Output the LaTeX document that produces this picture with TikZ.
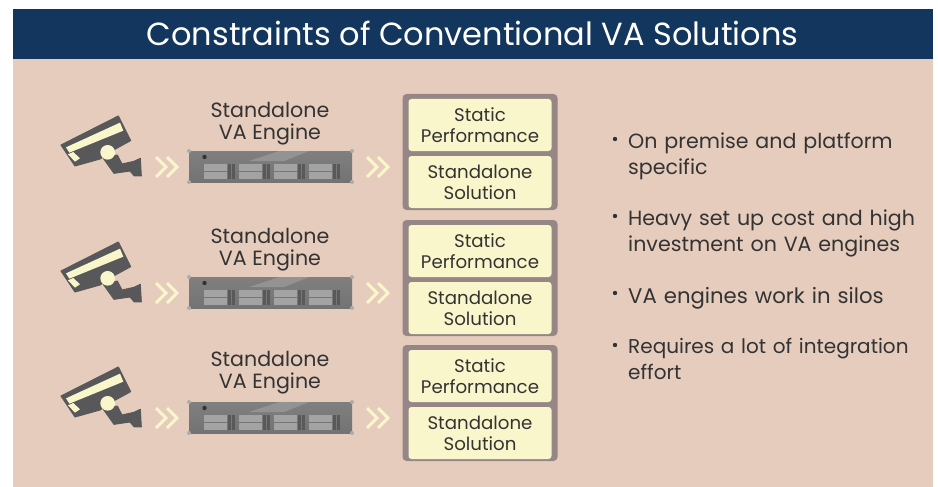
\documentclass[tikz,border=0pt]{standalone}
\usepackage{fontspec}
\setmainfont{Poppins}
\definecolor{navy}{HTML}{12365E}
\definecolor{peach}{HTML}{E6CCBD}
\definecolor{cream}{HTML}{FAF6CB}
\definecolor{taupe}{HTML}{968685}
\definecolor{camgray}{HTML}{58585A}
\definecolor{ink}{HTML}{333333}
\tikzset{
  x=1pt,y=-1pt,
  titletext/.style={text=white,font=\fontsize{32}{36}\selectfont,anchor=center,inner sep=0pt},
  enginelabel/.style={text=ink,font=\fontsize{20.6}{22}\selectfont,align=center,inner sep=0pt,anchor=center},
  boxlabel/.style={fill=cream,rounded corners=3pt,text=ink,font=\fontsize{18.2}{21}\selectfont,align=center,inner sep=0pt,minimum width=143pt,minimum height=52pt,anchor=center},
  frame/.style={fill=taupe,rounded corners=4pt,inner sep=0pt,minimum width=155pt,minimum height=116pt,anchor=center},
  bullettext/.style={text=ink,font=\fontsize{20.6}{26}\selectfont,align=left,inner sep=0pt,anchor=north west},
  chev/.style={draw=cream,line width=3pt,line cap=butt,line join=miter},
  camera/.pic={
    \begin{scope}[shift={(40,90)},x=0.3333pt,y=-0.3333pt]
      \filldraw[camgray,line width=1pt,line join=round] (63,165) -- (235,78) -- (272,152) -- (228,176) -- (180,207) -- (105,228) -- cycle;
      \fill[cream] (78,172) -- (240,98) -- (250,122) -- (88,188) -- cycle;
      \fill[cream] (84,193) -- (100,186) -- (120,205) -- (105,215) -- cycle;
      \filldraw[camgray,line width=1pt,line join=round] (190,205) -- (232,195) -- (246,222) -- (282,214) -- (301,205) -- (304,258) -- (283,258) -- (270,243) -- (222,250) -- cycle;
      \fill[cream] (203,187) circle[radius=22];
    \end{scope}
  },
  chevrons/.pic={
    \draw[chev] (-10,-10) -- (0,0) -- (-10,10);
    \draw[chev] (1,-10) -- (11,0) -- (1,10);
  },
  server/.pic={
    \begin{scope}[shift={(189,151)}]
      \shade[top color=gray!100,bottom color=gray!90!black] (0,0) rectangle (163,31);
      \fill[gray!85] (90,0) -- (120,0) -- (95,10) -- (60,10) -- cycle;
      \fill[black!80] (15.5,6) circle[radius=2.2];
      \foreach \cx/\cy in {0/0,163/0,0/31,163/31}{\fill[gray!65] (\cx,\cy) circle[radius=2];}
      \foreach \bx in {15,50,85,120}{
        \fill[gray!72] (\bx,13) rectangle ++(23,7);
        \fill[gray!72] (\bx,21) rectangle ++(23,6.5);
        \fill[black!65] (\bx+24,12.5) rectangle ++(3,15);
        \fill[black!65] (\bx+28,12.5) rectangle ++(3,15);
      }
    \end{scope}
  }
}
\begin{document}
\begin{tikzpicture}
\useasboundingbox (0,0) rectangle (938,487);
\fill[white] (0,0) rectangle (938,487);
\fill[peach] (13,59) rectangle (933,487);
\fill[navy] (13,9) rectangle (933,59);
\node[titletext] (title) at (472.5,33.5) {Constraints of Conventional VA Solutions};

\foreach \n/\dy/\dl in {1/0/0,2/126/126,3/251/249}{
  \pic at (0,\dy) {camera};
  \pic at (166,167+\dy) {chevrons};
  \pic at (0,\dy) {server};
  \pic at (377,167+\dy) {chevrons};
  \node[enginelabel] (eng\n) at (270,124+\dl) {Standalone\\VA Engine};
  \node[frame] (frame\n) at (480,152+\dy) {};
  \node[boxlabel] (perf\n) at (480,125+\dy) {Static\\Performance};
  \node[boxlabel] (sol\n) at (480,182+\dy) {Standalone\\Solution};
}
\node[bullettext,text width=300pt] (b1) at (628,133) {On premise and platform\\specific};
\node[bullettext,text width=300pt] (b2) at (628,210) {Heavy set up cost and high\\investment on VA engines};
\node[bullettext,text width=300pt,font=\fontsize{21.2}{26}\selectfont] (b3) at (628,287) {VA engines work in silos};
\node[bullettext,text width=300pt,font=\fontsize{20}{26}\selectfont] (b4) at (628,338) {Requires a lot of integration\\effort};
\foreach \yy in {139,216,293,345}{\fill[ink] (615,\yy) circle[radius=2.2];}
\end{tikzpicture}
\end{document}
